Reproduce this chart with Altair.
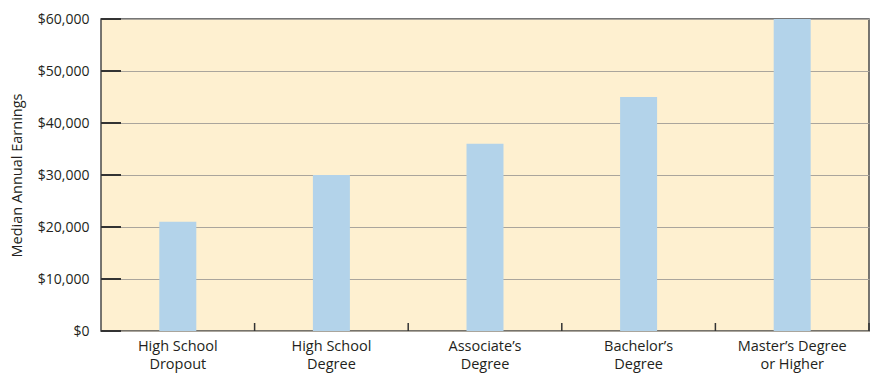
import altair as alt
import pandas as pd

categories = ["High School|Dropout", "High School|Degree", "Associate\u2019s|Degree",
              "Bachelor\u2019s|Degree", "Master\u2019s Degree|or Higher"]
earnings = [21000, 30000, 36000, 45000, 60000]
y_ticks = [0, 10000, 20000, 30000, 40000, 50000, 60000]

df = pd.DataFrame({"cat": categories, "val": earnings})
ticks_df = pd.DataFrame({"val": y_ticks})

FONT = "Open Sans"
W, H = 768, 312

x_axis = alt.Axis(labelExpr="split(datum.value, '|')", labelAngle=0,
                  labelFont=FONT, labelFontSize=14.5, labelColor="#231f20",
                  labelPadding=8, labelLineHeight=18, ticks=False,
                  domain=False, labelBaseline="top")
x_scale = alt.Scale(paddingInner=0, paddingOuter=0)

y_axis = alt.Axis(values=y_ticks, format="$,d", labelFont=FONT,
                  labelFontSize=14, labelColor="#231f20", labelPadding=12,
                  ticks=False, domain=False, grid=True, gridColor="#aaa59c",
                  gridWidth=1, titleFont=FONT, titleFontSize=14.5,
                  titleFontWeight="normal", titleColor="#231f20",
                  titlePadding=13)
y_scale = alt.Scale(domain=[0, 60000], nice=False)

bars = alt.Chart(df).mark_bar(color="#b3d3ea", width=37).encode(
    x=alt.X("cat:N", sort=categories, title=None, scale=x_scale, axis=x_axis),
    y=alt.Y("val:Q", title="Median Annual Earnings", scale=y_scale, axis=y_axis),
)

ytick_rules = alt.Chart(ticks_df).mark_rule(color="#333", strokeWidth=2).encode(
    y=alt.Y("val:Q", title="Median Annual Earnings", scale=y_scale, axis=y_axis),
    x=alt.value(0), x2=alt.value(20),
)

xtick_rules = alt.Chart(df).mark_rule(color="#333", strokeWidth=1.5).encode(
    x=alt.X("cat:N", sort=categories, bandPosition=1, title=None,
            scale=x_scale, axis=x_axis),
    y=alt.value(H - 8), y2=alt.value(H),
)

chart = alt.layer(bars, ytick_rules, xtick_rules).properties(
    width=W, height=H,
    autosize=alt.AutoSizeParams(type="none"),
    padding={"left": 93, "top": 11, "right": 10, "bottom": 43},
).configure_view(
    fill="#fef0d0", stroke="#4a4a4a", strokeWidth=1.5
)

chart.save("out.html", embed_options={"renderer": "svg", "actions": False})
